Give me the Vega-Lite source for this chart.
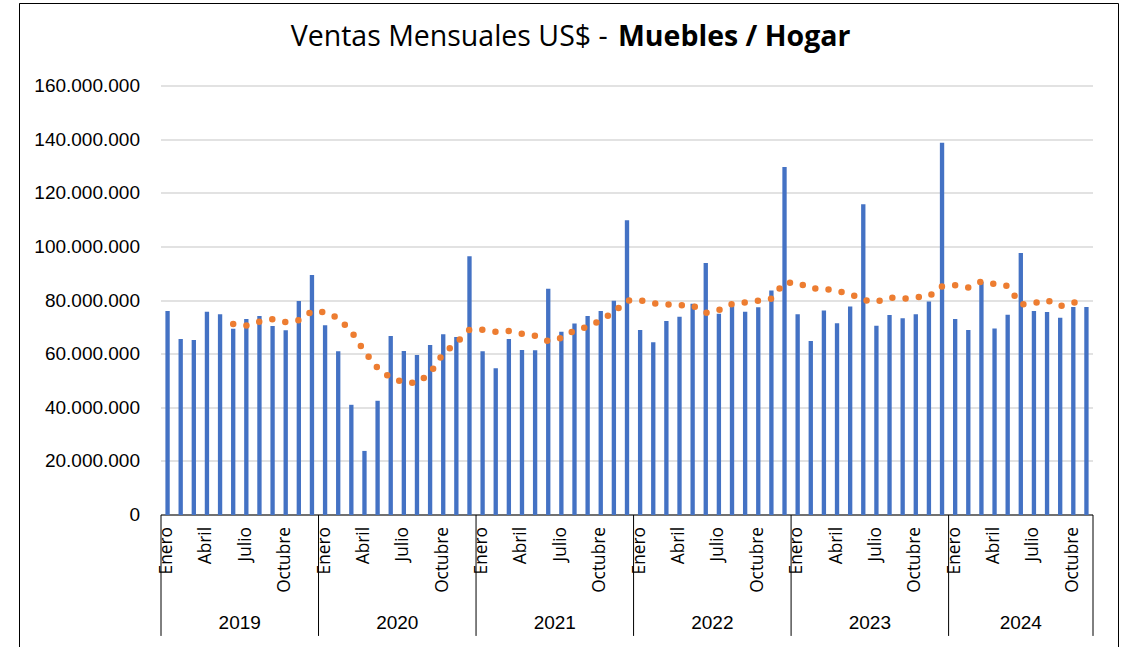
{
  "$schema": "https://vega.github.io/schema/vega-lite/v6.json",
  "width": 1099,
  "height": 644,
  "autosize": "none",
  "padding": {"left": 19, "top": 3, "right": 4, "bottom": 0},
  "background": "white",
  "title": {
    "text": "Ventas Mensuales US$ - ",
    "anchor": "start",
    "frame": "group",
    "dx": 271.7,
    "offset": -71.5,
    "font": "Open Sans",
    "fontSize": 28.5,
    "fontWeight": "normal",
    "color": "#000000",
    "baseline": "alphabetic"
  },
  "config": {
    "view": {"stroke": "#000000", "strokeWidth": 1, "strokeDash": [1743, 1099, 700]},
    "axis": {"translate": 0}
  },
  "datasets": {
    "ventas": [
      {"periodo": "2019-01", "ventas": 76100000},
      {"periodo": "2019-02", "ventas": 65600000},
      {"periodo": "2019-03", "ventas": 65300000},
      {"periodo": "2019-04", "ventas": 75800000},
      {"periodo": "2019-05", "ventas": 74900000},
      {"periodo": "2019-06", "ventas": 69500000, "media_movil": 71200000},
      {"periodo": "2019-07", "ventas": 73100000, "media_movil": 70700000},
      {"periodo": "2019-08", "ventas": 74200000, "media_movil": 72100000},
      {"periodo": "2019-09", "ventas": 70500000, "media_movil": 73000000},
      {"periodo": "2019-10", "ventas": 68900000, "media_movil": 71900000},
      {"periodo": "2019-11", "ventas": 79800000, "media_movil": 72700000},
      {"periodo": "2019-12", "ventas": 89500000, "media_movil": 76000000},
      {"periodo": "2020-01", "ventas": 70800000, "media_movil": 75600000},
      {"periodo": "2020-02", "ventas": 61100000, "media_movil": 73400000},
      {"periodo": "2020-03", "ventas": 41100000, "media_movil": 68500000},
      {"periodo": "2020-04", "ventas": 23900000, "media_movil": 61000000},
      {"periodo": "2020-05", "ventas": 42600000, "media_movil": 54800000},
      {"periodo": "2020-06", "ventas": 66800000, "media_movil": 51100000},
      {"periodo": "2020-07", "ventas": 61200000, "media_movil": 49500000},
      {"periodo": "2020-08", "ventas": 59700000, "media_movil": 49200000},
      {"periodo": "2020-09", "ventas": 63400000, "media_movil": 52900000},
      {"periodo": "2020-10", "ventas": 67400000, "media_movil": 60200000},
      {"periodo": "2020-11", "ventas": 66400000, "media_movil": 64200000},
      {"periodo": "2020-12", "ventas": 96500000, "media_movil": 69100000},
      {"periodo": "2021-01", "ventas": 61100000, "media_movil": 69100000},
      {"periodo": "2021-02", "ventas": 54700000, "media_movil": 68300000},
      {"periodo": "2021-03", "ventas": 65600000, "media_movil": 68600000},
      {"periodo": "2021-04", "ventas": 61500000, "media_movil": 67600000},
      {"periodo": "2021-05", "ventas": 61400000, "media_movil": 66800000},
      {"periodo": "2021-06", "ventas": 84400000, "media_movil": 64800000},
      {"periodo": "2021-07", "ventas": 68300000, "media_movil": 66000000},
      {"periodo": "2021-08", "ventas": 71400000, "media_movil": 68800000},
      {"periodo": "2021-09", "ventas": 74200000, "media_movil": 70200000},
      {"periodo": "2021-10", "ventas": 76100000, "media_movil": 72600000},
      {"periodo": "2021-11", "ventas": 79900000, "media_movil": 75700000},
      {"periodo": "2021-12", "ventas": 109900000, "media_movil": 80000000},
      {"periodo": "2022-01", "ventas": 69000000, "media_movil": 80100000},
      {"periodo": "2022-02", "ventas": 64400000, "media_movil": 78900000},
      {"periodo": "2022-03", "ventas": 72400000, "media_movil": 78600000},
      {"periodo": "2022-04", "ventas": 73900000, "media_movil": 78300000},
      {"periodo": "2022-05", "ventas": 78800000, "media_movil": 78100000},
      {"periodo": "2022-06", "ventas": 94000000, "media_movil": 75400000},
      {"periodo": "2022-07", "ventas": 75100000, "media_movil": 76400000},
      {"periodo": "2022-08", "ventas": 78000000, "media_movil": 78700000},
      {"periodo": "2022-09", "ventas": 75800000, "media_movil": 79300000},
      {"periodo": "2022-10", "ventas": 77500000, "media_movil": 79900000},
      {"periodo": "2022-11", "ventas": 83700000, "media_movil": 80700000},
      {"periodo": "2022-12", "ventas": 129800000, "media_movil": 86700000},
      {"periodo": "2023-01", "ventas": 74900000, "media_movil": 86600000},
      {"periodo": "2023-02", "ventas": 64900000, "media_movil": 84400000},
      {"periodo": "2023-03", "ventas": 76300000, "media_movil": 84500000},
      {"periodo": "2023-04", "ventas": 71500000, "media_movil": 83500000},
      {"periodo": "2023-05", "ventas": 77800000, "media_movil": 82500000},
      {"periodo": "2023-06", "ventas": 115900000, "media_movil": 80200000},
      {"periodo": "2023-07", "ventas": 70600000, "media_movil": 79500000},
      {"periodo": "2023-08", "ventas": 74600000, "media_movil": 81100000},
      {"periodo": "2023-09", "ventas": 73400000, "media_movil": 80600000},
      {"periodo": "2023-10", "ventas": 74900000, "media_movil": 81200000},
      {"periodo": "2023-11", "ventas": 79600000, "media_movil": 81500000},
      {"periodo": "2023-12", "ventas": 138800000, "media_movil": 85300000},
      {"periodo": "2024-01", "ventas": 73100000, "media_movil": 85700000},
      {"periodo": "2024-02", "ventas": 69000000, "media_movil": 84800000},
      {"periodo": "2024-03", "ventas": 87000000, "media_movil": 87100000},
      {"periodo": "2024-04", "ventas": 69600000, "media_movil": 86200000},
      {"periodo": "2024-05", "ventas": 74700000, "media_movil": 85400000},
      {"periodo": "2024-06", "ventas": 97700000, "media_movil": 78500000},
      {"periodo": "2024-07", "ventas": 76100000, "media_movil": 79000000},
      {"periodo": "2024-08", "ventas": 75700000, "media_movil": 80100000},
      {"periodo": "2024-09", "ventas": 73600000, "media_movil": 77900000},
      {"periodo": "2024-10", "ventas": 77600000, "media_movil": 79200000},
      {"periodo": "2024-11", "ventas": 77600000, "media_movil": 79700000}
    ],
    "inicios": [
      {"periodo": "2019-01"}, {"periodo": "2020-01"}, {"periodo": "2021-01"},
      {"periodo": "2022-01"}, {"periodo": "2023-01"}, {"periodo": "2024-01"}
    ],
    "fin": [{"periodo": "2024-11"}],
    "anios": [
      {"anio": "2019", "periodo": "2019-07"},
      {"anio": "2020", "periodo": "2020-07"},
      {"anio": "2021", "periodo": "2021-07"},
      {"anio": "2022", "periodo": "2022-07"},
      {"anio": "2023", "periodo": "2023-07"}
    ],
    "anio2024": [{"anio": "2024", "periodo": "2024-06"}]
  },
  "layer": [
    {
      "data": {"name": "ventas"},
      "mark": {"type": "bar", "color": "#4472C4", "width": {"band": 0.33}},
      "encoding": {
        "x": {
          "field": "periodo",
          "type": "ordinal",
          "sort": "ascending",
          "scale": {"type": "band", "paddingInner": 0, "paddingOuter": 0, "range": [142, 1074]},
          "axis": {
            "title": "Muebles / Hogar",
            "titleFont": "Open Sans",
            "titleFontSize": 28.5,
            "titleFontWeight": "bold",
            "titleColor": "#000000",
            "titleX": 599,
            "titleY": -469,
            "titleAlign": "left",
            "titleBaseline": "alphabetic",
            "labelExpr": "slice(datum.value, 5) == '01' ? 'Enero' : slice(datum.value, 5) == '04' ? 'Abril' : slice(datum.value, 5) == '07' ? 'Julio' : slice(datum.value, 5) == '10' ? 'Octubre' : ''",
            "labelAngle": -90,
            "labelAlign": "right",
            "labelBaseline": "middle",
            "labelFont": "Open Sans",
            "labelFontSize": 17.3,
            "labelColor": "#000000",
            "labelPadding": 12,
            "labelOverlap": false,
            "labelBound": false,
            "labelFlush": false,
            "ticks": false,
            "tickSize": 0,
            "domain": true,
            "domainColor": "#000000",
            "domainWidth": 1,
            "grid": false,
            "offset": -132
          }
        },
        "y": {
          "field": "ventas",
          "type": "quantitative",
          "scale": {"domain": [0, 160000000], "nice": false, "zero": true, "range": [512, 83]},
          "axis": {
            "title": null,
            "values": [0, 20000000, 40000000, 60000000, 80000000, 100000000, 120000000, 140000000, 160000000],
            "labelExpr": "replace(format(datum.value, ','), /,/g, '.')",
            "labelFont": "Liberation Sans",
            "labelFontSize": 19,
            "labelColor": "#000000",
            "labelPadding": 10,
            "domain": false,
            "ticks": false,
            "tickSize": 0,
            "grid": true,
            "gridColor": "#D9D9D9",
            "gridWidth": 1.3,
            "offset": -131
          }
        }
      }
    },
    {
      "data": {"name": "ventas"},
      "mark": {"type": "line", "color": "#ED7D31", "strokeWidth": 6.5, "strokeDash": [0, 13.3], "strokeCap": "round"},
      "encoding": {
        "x": {"field": "periodo", "type": "ordinal"},
        "y": {"field": "media_movil", "type": "quantitative"}
      }
    },
    {
      "data": {"name": "inicios"},
      "mark": {"type": "rule", "color": "#000000", "strokeWidth": 1},
      "encoding": {
        "x": {"field": "periodo", "type": "ordinal", "bandPosition": 0},
        "y": {"datum": 0},
        "y2": {"datum": -45100000}
      }
    },
    {
      "data": {"name": "fin"},
      "mark": {"type": "rule", "color": "#000000", "strokeWidth": 1},
      "encoding": {
        "x": {"field": "periodo", "type": "ordinal", "bandPosition": 1},
        "y": {"datum": 0},
        "y2": {"datum": -45100000}
      }
    },
    {
      "data": {"name": "anios"},
      "mark": {"type": "text", "font": "Liberation Sans", "fontSize": 19, "color": "#000000", "baseline": "middle", "align": "center"},
      "encoding": {
        "x": {"field": "periodo", "type": "ordinal", "bandPosition": 0},
        "y": {"datum": -40400000},
        "text": {"field": "anio"}
      }
    },
    {
      "data": {"name": "anio2024"},
      "mark": {"type": "text", "font": "Liberation Sans", "fontSize": 19, "color": "#000000", "baseline": "middle", "align": "center"},
      "encoding": {
        "x": {"field": "periodo", "type": "ordinal"},
        "y": {"datum": -40400000},
        "text": {"field": "anio"}
      }
    }
  ]
}
